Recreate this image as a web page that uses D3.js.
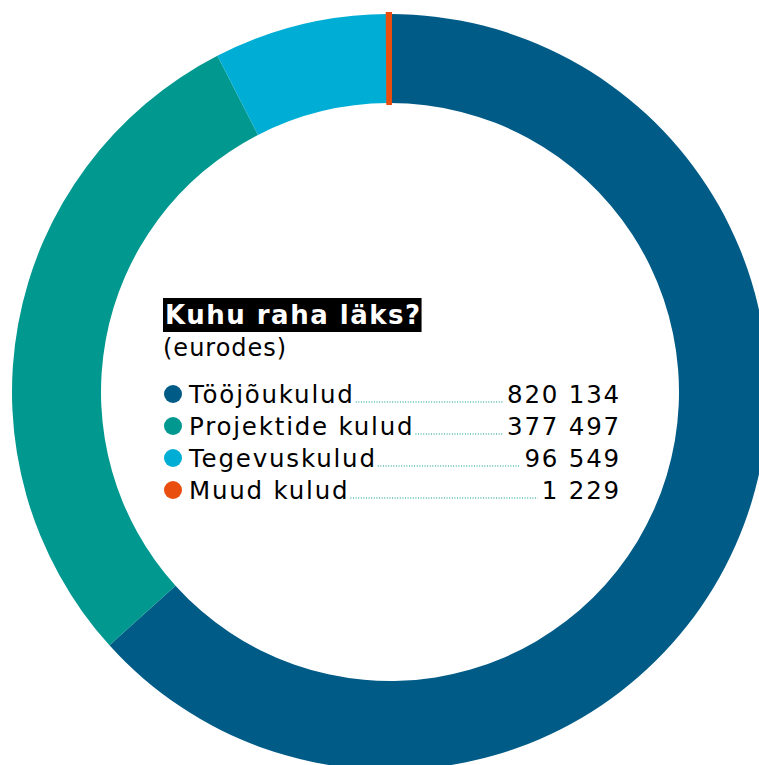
<!DOCTYPE html>
<html>
<head>
<meta charset="utf-8">
<script src="https://cdn.jsdelivr.net/npm/d3@7"></script>
<style>
  body { margin: 0; background: #fff; }
  svg { display: block; }
  text { font-family: "DejaVu Sans", sans-serif; }
</style>
</head>
<body>
<svg width="759" height="765"></svg>
<script>
var categories = ["Tööjõukulud", "Projektide kulud", "Tegevuskulud", "Muud kulud"];
var values = [820134, 377497, 96549, 1229];
var valueLabels = ["820 134", "377 497", "96 549", "1 229"];
var colors = ["#005b87", "#00988f", "#00aed5", "#e94e0f"];

var svg = d3.select("svg"),
    width = +svg.attr("width"),
    height = +svg.attr("height");

var cx = 390, cy = 392,
    outerR = 378, innerR = 289;

var data = categories.map(function(c, i) {
  return { name: c, value: values[i], label: valueLabels[i], color: colors[i] };
});

var pie = d3.pie()
    .sort(null)
    .value(function(d) { return d.value; });

var arc = d3.arc()
    .innerRadius(innerR)
    .outerRadius(outerR);

svg.append("g")
    .attr("transform", "translate(" + cx + "," + cy + ")")
  .selectAll("path")
  .data(pie(data))
  .enter().append("path")
    .attr("d", arc)
    .attr("fill", function(d) { return d.data.color; })
    // the tiny slice gets a stroke so it stays visible
    .attr("stroke", function(d, i) { return i == 3 ? d.data.color : "none"; })
    .attr("stroke-width", 4);

// -- title --
var left = 163;

var title = svg.append("text")
    .attr("x", left + 2)
    .attr("y", 324)
    .style("font-size", "26px")
    .style("font-weight", "bold")
    .style("letter-spacing", "1.5px")
    .style("fill", "#fff")
    .text("Kuhu raha läks?");

var tb = title.node().getBBox();
svg.insert("rect", "text")
    .attr("x", left)
    .attr("y", 298)
    .attr("width", tb.width + 2)
    .attr("height", 34)
    .attr("fill", "#000");

svg.append("text")
    .attr("x", left)
    .attr("y", 356)
    .style("font-size", "24px")
    .style("letter-spacing", "1px")
    .style("fill", "#000")
    .text("(eurodes)");

// -- legend --
var y = d3.scaleBand()
    .domain(categories)
    .range([378, 506]);

var rightX = 621;

var rows = svg.append("g")
  .selectAll("g")
  .data(data)
  .enter().append("g")
    .attr("transform", function(d) { return "translate(0," + (y(d.name) + y.bandwidth() / 2) + ")"; });

rows.append("circle")
    .attr("cx", 173)
    .attr("cy", 0)
    .attr("r", 9)
    .attr("fill", function(d) { return d.color; });

var names = rows.append("text")
    .attr("x", 189)
    .attr("y", 8.5)
    .style("font-size", "24.5px")
    .style("letter-spacing", "1.8px")
    .style("fill", "#000")
    .text(function(d) { return d.name; });

var nums = rows.append("text")
    .attr("x", rightX)
    .attr("y", 8.5)
    .style("font-size", "24.5px")
    .style("letter-spacing", "1.8px")
    .style("text-anchor", "end")
    .style("fill", "#000")
    .text(function(d) { return d.label; });

rows.each(function(d, i) {
  var nb = names.nodes()[i].getBBox(),
      vb = nums.nodes()[i].getBBox();
  d3.select(this).insert("line", "text")
      .attr("x1", nb.x + nb.width + 1)
      .attr("x2", vb.x - 4)
      .attr("y1", 8)
      .attr("y2", 8)
      .attr("stroke", "#00988f")
      .attr("stroke-width", 1.2)
      .attr("stroke-dasharray", "1,1.6");
});
</script>
</body>
</html>
